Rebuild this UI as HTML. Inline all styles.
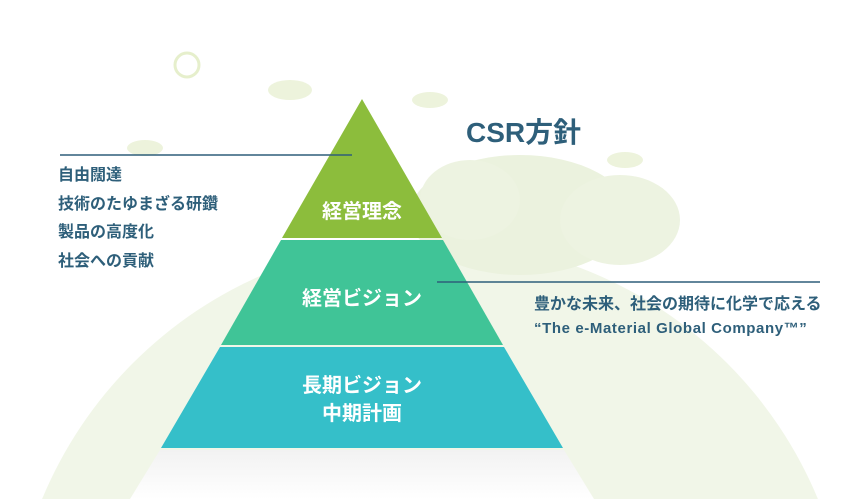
<!DOCTYPE html>
<html><head><meta charset="utf-8"><style>
html,body{margin:0;width:849px;height:499px;overflow:hidden;background:#fff;font-family:"Liberation Sans","Noto Sans CJK JP",sans-serif;}
.t{position:absolute;color:#2e5f7a;font-weight:bold;white-space:nowrap}
svg{display:block}
</style></head><body>
<svg width="849" height="499" style="position:absolute;left:0;top:0">
<defs>
<linearGradient id="fade" x1="0" y1="0" x2="0" y2="1"><stop offset="0" stop-color="#f2f2f2"/><stop offset="1" stop-color="#fff"/></linearGradient>
</defs>
<circle cx="430" cy="660" r="420" fill="#f1f6e8"/>
<ellipse cx="520" cy="215" rx="110" ry="60" fill="#ebf2de"/>
<ellipse cx="470" cy="200" rx="50" ry="40" fill="#edf3e1"/>
<ellipse cx="620" cy="220" rx="60" ry="45" fill="#edf3e1"/>
<ellipse cx="290" cy="90" rx="22" ry="10" fill="#edf3dc"/>
<ellipse cx="430" cy="100" rx="18" ry="8" fill="#edf3dc"/>
<ellipse cx="145" cy="148" rx="18" ry="8" fill="#edf3dc"/>
<ellipse cx="625" cy="160" rx="18" ry="8" fill="#edf3dc"/>
<circle cx="187" cy="65" r="12" fill="none" stroke="#e6efcc" stroke-width="3"/>
<polygon points="362,99 282,238 442,238" fill="#8cbd3c"/>
<polygon points="281,240 443,240 503,345 221,345" fill="#40c497"/>
<polygon points="220,347 504,347 563,448 161,448" fill="#35bfc9"/>
<polygon points="160,450 564,450 594,499 130,499" fill="url(#fade)"/>
<line x1="60" y1="155" x2="352" y2="155" stroke="#2e5f7a" stroke-width="1.5"/>
<line x1="437" y1="282" x2="820" y2="282" stroke="#2e5f7a" stroke-width="1.5"/>
</svg>
<div class="t" style="left:466px;top:111px;font-size:28px">CSR方針</div>
<div class="t" style="left:58px;top:162px;font-size:16px;line-height:28.5px">自由闊達<br>技術のたゆまざる研鑽<br>製品の高度化<br>社会への貢献</div>
<div class="t" style="left:282px;top:195px;width:160px;text-align:center;color:#fff;font-size:20px">経営理念</div>
<div class="t" style="left:262px;top:282px;width:200px;text-align:center;color:#fff;font-size:20px">経営ビジョン</div>
<div class="t" style="left:262px;top:372px;width:200px;text-align:center;color:#fff;font-size:20px;line-height:28px">長期ビジョン<br>中期計画</div>
<div class="t" style="left:534px;top:290px;font-size:16px">豊かな未来、社会の期待に化学で応える</div>
<div class="t" style="left:534px;top:320px;font-size:15px;letter-spacing:0.6px">“The e-Material Global Company™”</div>
</body></html>
